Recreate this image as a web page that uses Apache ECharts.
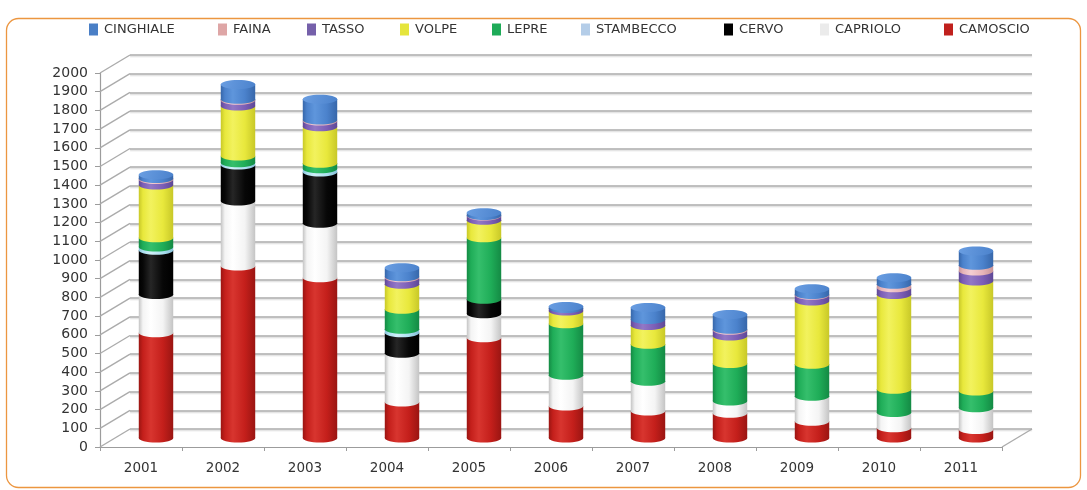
<!DOCTYPE html>
<html>
<head>
<meta charset="utf-8">
<script src="https://cdn.jsdelivr.net/npm/echarts@6/dist/echarts.min.js"></script>
<style>
  html, body { margin: 0; padding: 0; background: #ffffff; }
  #chart { width: 1087px; height: 490px; }
</style>
</head>
<body>
<div id="chart"></div>
<script>
// Categories (years) and stacked values per species, bottom to top
const years = ['2001', '2002', '2003', '2004', '2005', '2006', '2007', '2008', '2009', '2010', '2011'];
const camoscio  = [563, 920, 857, 193, 536, 171, 144, 133,  89,  55,  46];
const capriolo  = [205, 347, 291, 260, 129, 164, 160,  65, 134,  81, 116];
const cervo     = [236, 193, 274, 110,  77,   0,   0,   0,   0,   0,   0];
const stambecco = [ 17,  12,  18,  18,   0,   0,   0,   0,   0,   0,   0];
const lepre     = [ 50,  36,  29, 107, 329, 276, 197, 201, 171, 125,  89];
const volpe     = [282, 267, 196, 134,  93,  68, 101, 146, 339, 507, 589];
const tasso     = [ 30,  31,  30,  35,  23,  14,  32,  31,  30,  36,  53];
const faina     = [  5,   5,   5,   5,   3,   0,   0,   5,   5,  18,  31];
const cinghiale = [ 20,  80, 111,  49,  15,  10,  64,  80,  30,  35,  76];

// Value axis range
const Y_MIN = 0, Y_MAX = 2000, Y_STEP = 100;

// Stack order, bottom first
const stackNames  = ['CAMOSCIO', 'CAPRIOLO', 'CERVO', 'STAMBECCO', 'LEPRE', 'VOLPE', 'TASSO', 'FAINA', 'CINGHIALE'];
const stackValues = [camoscio, capriolo, cervo, stambecco, lepre, volpe, tasso, faina, cinghiale];
// Legend order, left to right
const legendNames = ['CINGHIALE', 'FAINA', 'TASSO', 'VOLPE', 'LEPRE', 'STAMBECCO', 'CERVO', 'CAPRIOLO', 'CAMOSCIO'];
const legendLeft  = [89, 218, 307, 400, 492, 581, 724, 820, 944];

// Cylinder shading per species
const palette = {
  CAMOSCIO:  { legend: '#c0201d', dark: '#9a1512', light: '#d8352f', base: '#c41f1b', top: '#d23a33' },
  CAPRIOLO:  { legend: '#ebebeb', dark: '#c4c4c4', light: '#ffffff', base: '#f4f4f4', top: '#fbfbfb' },
  CERVO:     { legend: '#000000', dark: '#000000', light: '#262626', base: '#070707', top: '#222222' },
  STAMBECCO: { legend: '#b4cde8', dark: '#86c0d8', light: '#d2f0fa', base: '#ace0f0', top: '#c8eef8' },
  LEPRE:     { legend: '#1eab58', dark: '#148a44', light: '#35bf6c', base: '#1fad58', top: '#3cc274' },
  VOLPE:     { legend: '#e5e53c', dark: '#c8c828', light: '#f2f25e', base: '#e8e83c', top: '#f0f068' },
  TASSO:     { legend: '#7560aa', dark: '#5e4896', light: '#9278c6', base: '#7c5eb6', top: '#9a80cc' },
  FAINA:     { legend: '#dea6a6', dark: '#c89498', light: '#f4ced2', base: '#e6b4b8', top: '#f0c8cc' },
  CINGHIALE: { legend: '#4a7fc6', dark: '#3767aa', light: '#5f96dc', base: '#4b82cc', top: '#6a9ee2' }
};

const fontFamily = "'DejaVu Sans', 'Liberation Sans', sans-serif";

// Cumulative stack bounds for each category
const nCat = years.length;
const bases = [], tops = [];
let running = new Array(nCat).fill(0);
stackValues.forEach((vals, k) => {
  bases[k] = running.slice();
  running = running.map((r, i) => r + vals[i]);
  tops[k] = running.slice();
});
// Topmost non-empty segment of each column gets the lit top face
function isTopSegment(k, i) {
  if (stackValues[k][i] <= 0) return false;
  for (let j = k + 1; j < stackValues.length; j++) if (stackValues[j][i] > 0) return false;
  return true;
}

const BAR_RATIO = 0.42;
const ELLIPSE_RY = 4.5;

function bodyFill(p) {
  return new echarts.graphic.LinearGradient(0, 0, 1, 0, [
    { offset: 0, color: p.dark },
    { offset: 0.12, color: p.base },
    { offset: 0.35, color: p.light },
    { offset: 0.7, color: p.base },
    { offset: 1, color: p.dark }
  ]);
}
function topFill(p) {
  return new echarts.graphic.LinearGradient(0, 0, 1, 1, [
    { offset: 0, color: p.top },
    { offset: 1, color: p.base }
  ]);
}

function cylinderRenderer(name) {
  const p = palette[name];
  return function (params, api) {
    const i = api.value(0), base = api.value(1), top = api.value(2), lit = api.value(3);
    if (!(top > base)) return null;
    const bw = api.size([1, 0])[0] * BAR_RATIO;
    const pb = api.coord([i, base]);
    const pt = api.coord([i, top]);
    const fill = bodyFill(p);
    const children = [
      { type: 'ellipse', shape: { cx: pb[0], cy: pb[1], rx: bw / 2, ry: ELLIPSE_RY }, style: { fill: fill } },
      { type: 'rect', shape: { x: pb[0] - bw / 2, y: pt[1], width: bw, height: pb[1] - pt[1] }, style: { fill: fill } }
    ];
    if (lit) {
      children.push({ type: 'ellipse', shape: { cx: pt[0], cy: pt[1], rx: bw / 2, ry: ELLIPSE_RY }, style: { fill: topFill(p) } });
    }
    return { type: 'group', children: children };
  };
}

// Depth offset between the front axis plane and the back wall
const DEPTH_DX = 30, DEPTH_DY = 18;
const gridLine = '#ababab';

const yTicks = [];
for (let v = Y_MIN; v <= Y_MAX; v += Y_STEP) yTicks.push(v);

const series = [];

// Oblique lines joining the front axis ticks to the back wall
series.push({
  type: 'custom',
  name: 'depth',
  xAxisIndex: 0, yAxisIndex: 0,
  silent: true,
  z: 1,
  data: yTicks.map(v => [0, v]),
  encode: { x: 0, y: 1 },
  renderItem: function (params, api) {
    const cs = params.coordSys;
    const y = api.coord([0, api.value(1)])[1];
    const style = { stroke: gridLine, lineWidth: 1.4 };
    const kids = [{ type: 'line', shape: { x1: cs.x, y1: y, x2: cs.x + DEPTH_DX, y2: y - DEPTH_DY }, style: style }];
    if (api.value(1) === Y_MIN) {
      kids.push({ type: 'line', shape: { x1: cs.x + cs.width, y1: y, x2: cs.x + cs.width + DEPTH_DX, y2: y - DEPTH_DY }, style: style });
    }
    return { type: 'group', children: kids };
  }
});

// Stacked cylinders
stackNames.forEach((name, k) => {
  series.push({
    type: 'custom',
    name: name,
    xAxisIndex: 2, yAxisIndex: 2,
    z: 10 + k,
    itemStyle: { color: palette[name].legend },
    data: years.map((yr, i) => [i, bases[k][i], tops[k][i], isTopSegment(k, i) ? 1 : 0]),
    encode: { x: 0, y: 2 },
    renderItem: cylinderRenderer(name)
  });
});

const option = {
  animation: false,
  backgroundColor: '#ffffff',
  graphic: [{
    type: 'rect',
    silent: true,
    z: 0,
    shape: { x: 6.5, y: 18.5, width: 1074, height: 469, r: 12 },
    style: { fill: 'none', stroke: '#ec9640', lineWidth: 1.3 }
  }],
  legend: legendNames.map((n, j) => ({
    data: [n],
    left: legendLeft[j],
    top: 23,
    icon: 'rect',
    itemWidth: 9,
    itemHeight: 12,
    itemGap: 0,
    selectedMode: false,
    padding: 0,
    textStyle: { fontFamily: fontFamily, fontSize: 13, color: '#333333', padding: [0, 0, 0, 1] }
  })),
  grid: [
    { left: 100, right: 85, top: 73, bottom: 43 },   // front plane (axis labels)
    { left: 130, right: 55, top: 55, bottom: 61 },   // back wall (gridlines)
    { left: 115, right: 70, top: 64, bottom: 52 }    // column plane
  ],
  xAxis: [
    {
      gridIndex: 0, type: 'category', data: years,
      axisLine: { show: true, lineStyle: { color: '#9c9c9c', width: 1.2 } },
      axisTick: { show: true, length: 4, lineStyle: { color: '#9c9c9c' } },
      axisLabel: { margin: 14, fontFamily: fontFamily, fontSize: 13.5, color: '#333333' },
      splitLine: { show: false }
    },
    { gridIndex: 1, type: 'category', data: years, show: false },
    { gridIndex: 2, type: 'category', data: years, show: false }
  ],
  yAxis: [
    {
      gridIndex: 0, type: 'value', min: Y_MIN, max: Y_MAX, interval: Y_STEP,
      axisLine: { show: true, lineStyle: { color: '#9c9c9c', width: 1.2 } },
      axisTick: { show: true, length: 5, lineStyle: { color: '#9c9c9c' } },
      axisLabel: { margin: 12, fontFamily: fontFamily, fontSize: 14, color: '#333333', formatter: v => String(v) },
      splitLine: { show: false }
    },
    {
      gridIndex: 1, type: 'value', min: Y_MIN, max: Y_MAX, interval: Y_STEP,
      axisLine: { show: false }, axisTick: { show: false }, axisLabel: { show: false },
      splitLine: { show: true, lineStyle: { color: gridLine, width: 1.6, shadowColor: 'rgba(0,0,0,0.12)', shadowOffsetY: 1.5, shadowBlur: 1 } }
    },
    {
      gridIndex: 2, type: 'value', min: Y_MIN, max: Y_MAX, interval: Y_STEP, show: false,
      splitLine: { show: false }
    }
  ],
  series: series
};

const chart = echarts.init(document.getElementById('chart'), null, { renderer: 'canvas' });
chart.setOption(option);
</script>
</body>
</html>
